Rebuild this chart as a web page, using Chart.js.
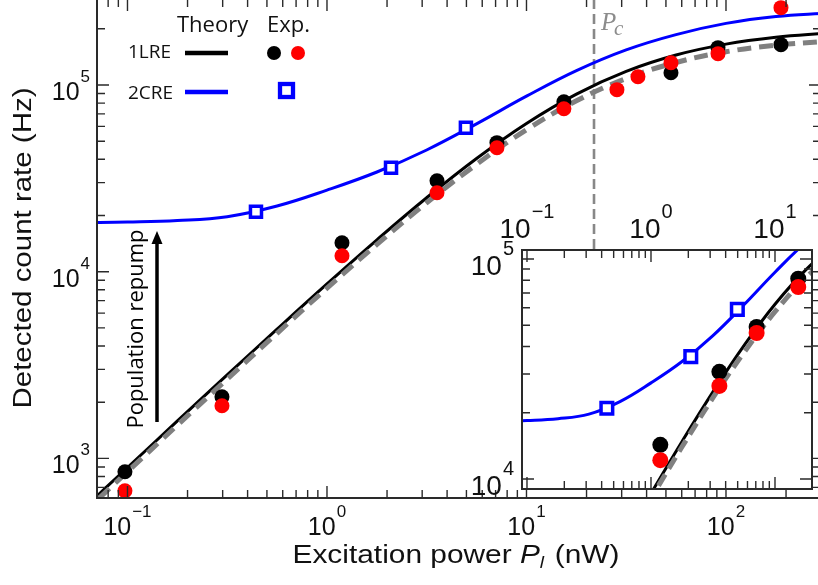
<!DOCTYPE html>
<html>
<head>
<meta charset="utf-8">
<script src="https://cdn.jsdelivr.net/npm/chart.js@4.4.1/dist/chart.umd.min.js"></script>
<style>
    html, body { margin: 0; padding: 0; background: #fff; overflow: hidden; width: 818px; height: 585px; }
    #mainBox { position: absolute; left: 0; top: -2px; width: 822px; height: 587px; }
    #insetBox { position: absolute; left: 462px; top: 195px; width: 360px; height: 300px; }
</style>
</head>
<body>
<div id="mainBox"><canvas id="mainChart" width="822" height="587"></canvas></div>
<div id="insetBox"><canvas id="insetChart" width="360" height="300"></canvas></div>
<script>
// theory curves (power in nW, count rate in Hz)
var theoryPower = [0.06, 0.1, 0.178, 0.316, 0.562, 1, 1.78, 3.16, 5.62, 10, 17.8, 31.6, 56.2, 100, 178, 320];
var theory1LRE = [537, 894, 1587, 2800, 4925, 8600, 14820, 24900, 40430, 62270, 89440, 118350, 144780, 165570, 180100, 189600];
var theory1LREdash = [510, 849, 1508, 2660, 4679, 8170, 14005, 23406, 37600, 57600, 82285, 108290, 132040, 150670, 163350, 171590];
var theory2CRE = [18320, 18450, 18790, 19720, 22490, 27350, 34200, 44870, 61940, 87100, 119400, 154200, 186200, 213800, 232800, 242700];

// measured points
var expPower = [0.0971, 0.2976, 1.189, 3.56, 7.11, 15.4, 53.0, 91.2, 188.6];
var expBlack = [849, 2140, 14300, 30700, 49100, 81400, 116400, 158500, 164500];
var expRedPower = [0.0971, 0.2976, 1.189, 3.56, 7.11, 15.4, 28.4, 36.2, 53.0, 91.2, 188.6];
var expRed = [671, 1916, 12180, 26500, 46100, 74600, 94400, 110700, 131500, 147200, 259600];
var exp2Power = [0.4406, 2.094, 4.97];
var exp2Blue = [20960, 36000, 59000];
var criticalPower = 21.8;

// tick labels
var mainXTicks = [0.1, 1, 10, 100];
var mainXExp = ['\u22121', '0', '1', '2'];
var mainYTicks = [1e3, 1e4, 1e5];
var mainYExp = ['3', '4', '5'];
var insetXTicks = [0.1, 1, 10];
var insetXExp = ['\u22121', '0', '1'];
var insetYTicks = [1e4, 1e5];
var insetYExp = ['4', '5'];

var SANS = '"Liberation Sans", Arial, sans-serif';
var LEG = '"Open Sans", sans-serif';

function pts(xs, ys) {
    return xs.map(function (v, i) { return { x: v, y: ys[i] }; });
}

function logTicks(min, max) {
    var out = [];
    var e0 = Math.floor(Math.log10(min)), e1 = Math.ceil(Math.log10(max));
    for (var e = e0; e <= e1; e++) {
        for (var m = 1; m < 10; m++) {
            var v = m * Math.pow(10, e);
            if (v >= min * 0.999 && v <= max * 1.001) out.push({ v: v, major: m === 1 });
        }
    }
    return out;
}

function drawBox(chart, s) {
    var ctx = chart.ctx, a = chart.chartArea, xs = chart.scales.x, ys = chart.scales.y;
    ctx.save();
    ctx.strokeStyle = '#2a2a2a';
    ctx.lineWidth = s.tickWidth;
    ctx.beginPath();
    logTicks(xs.min, xs.max).forEach(function (t) {
        var px = xs.getPixelForValue(t.v), len = t.major ? s.major : s.minor;
        ctx.moveTo(px, a.bottom); ctx.lineTo(px, a.bottom - len);
        ctx.moveTo(px, a.top); ctx.lineTo(px, a.top + len);
    });
    logTicks(ys.min, ys.max).forEach(function (t) {
        var py = ys.getPixelForValue(t.v), len = t.major ? s.major : s.minor;
        ctx.moveTo(a.left, py); ctx.lineTo(a.left + len, py);
        ctx.moveTo(a.right, py); ctx.lineTo(a.right - len, py);
    });
    ctx.stroke();
    ctx.lineWidth = s.borderWidth;
    ctx.strokeRect(a.left, a.top, a.right - a.left, a.bottom - a.top);
    ctx.restore();
}

function powerLabel(ctx, exp, x, y, s, align) {
    ctx.font = s.base + 'px ' + SANS;
    var w1 = ctx.measureText('10').width;
    ctx.font = s.sup + 'px ' + SANS;
    var w2 = ctx.measureText(exp).width;
    var left = align === 'right' ? x - w1 - w2 - 1 : x - (w1 + w2 + 1) / 2;
    ctx.fillStyle = '#111';
    ctx.textAlign = 'left';
    ctx.textBaseline = 'alphabetic';
    ctx.font = s.base + 'px ' + SANS;
    ctx.fillText('10', left, y);
    ctx.font = s.sup + 'px ' + SANS;
    ctx.fillText(exp, left + w1 + 1, y - s.raise);
}

function curveSets(w, dash) {
    return [
        { label: '2CRE theory', data: pts(theoryPower, theory2CRE), borderColor: '#0000ff', borderWidth: w.line, pointRadius: 0, tension: 0.4, order: 6 },
        { label: '1LRE theory', data: pts(theoryPower, theory1LRE), borderColor: '#000000', borderWidth: w.line, pointRadius: 0, tension: 0.4, order: 5 },
        { label: '1LRE theory (dashed)', data: pts(theoryPower, theory1LREdash), borderColor: '#808080', borderWidth: w.dash, borderDash: dash, pointRadius: 0, tension: 0.4, order: 4 },
        { label: 'Exp. black', data: pts(expPower, expBlack), showLine: false, pointRadius: w.dot, pointBorderWidth: 0, pointBackgroundColor: '#000000', order: 3 },
        { label: 'Exp. red', data: pts(expRedPower, expRed), showLine: false, pointRadius: w.dot, pointBorderWidth: 0, pointBackgroundColor: '#ff0000', order: 2 },
        { label: 'Exp. 2CRE', data: pts(exp2Power, exp2Blue), showLine: false, pointStyle: 'rect', pointRadius: w.sq, pointBorderWidth: w.sqBorder, pointBorderColor: '#0000ff', pointBackgroundColor: '#ffffff', order: 1 }
    ];
}

function logAxis(min, max, fit) {
    return {
        type: 'logarithmic', min: min, max: max,
        ticks: { display: false }, grid: { display: false }, border: { display: false },
        afterFit: fit
    };
}

// text squeezed or stretched along its run to a given length
function stretchedText(ctx, parts, cx, cy, length, angle) {
    var total = 0;
    parts.forEach(function (p) { ctx.font = p.font; p.w = ctx.measureText(p.text).width; total += p.w + (p.gap || 0); });
    ctx.save();
    ctx.translate(cx, cy);
    ctx.rotate(angle);
    ctx.scale(length / total, 1);
    ctx.textAlign = 'left';
    ctx.textBaseline = 'alphabetic';
    var x = -total / 2;
    parts.forEach(function (p) {
        ctx.font = p.font;
        ctx.fillText(p.text, x, p.dy || 0);
        x += p.w + (p.gap || 0);
    });
    ctx.restore();
}

var mainDecor = {
    id: 'mainDecor',
    beforeDatasetsDraw: function (chart) {
        var ctx = chart.ctx, a = chart.chartArea;
        var px = chart.scales.x.getPixelForValue(criticalPower);
        ctx.save();
        ctx.strokeStyle = '#888888';
        ctx.lineWidth = 2.6;
        ctx.setLineDash([10, 5]);
        ctx.beginPath();
        ctx.moveTo(px, a.top);
        ctx.lineTo(px, 254);
        ctx.stroke();
        ctx.restore();
    },
    afterDraw: function (chart) {
        var ctx = chart.ctx, a = chart.chartArea, xs = chart.scales.x, ys = chart.scales.y;
        drawBox(chart, { tickWidth: 1.4, major: 12, minor: 8, borderWidth: 2 });
        var lab = { base: 25, sup: 17, raise: 18 };
        mainXTicks.forEach(function (v, i) {
            powerLabel(ctx, mainXExp[i], xs.getPixelForValue(v), a.bottom + 37, lab, 'center');
        });
        mainYTicks.forEach(function (v, i) {
            powerLabel(ctx, mainYExp[i], a.left - 7, ys.getPixelForValue(v) + 15, lab, 'right');
        });

        ctx.save();
        ctx.translate(0, 2); // page coordinates
        ctx.fillStyle = '#111';
        // axis titles
        stretchedText(ctx, [
            { text: 'Excitation power ', font: '25px ' + SANS },
            { text: 'P', font: 'italic 25px ' + SANS },
            { text: 'l', font: 'italic 16px ' + SANS, dy: 5, gap: 2 },
            { text: ' (nW)', font: '25px ' + SANS }
        ], 456, 563, 327, 0);
        stretchedText(ctx, [
            { text: 'Detected count rate (Hz)', font: '25px ' + SANS }
        ], 31, 248, 321, -Math.PI / 2);

        // legend table
        ctx.textAlign = 'left';
        ctx.textBaseline = 'alphabetic';
        ctx.font = '22px ' + LEG;
        ctx.fillText('Theory', 177, 32);
        ctx.fillText('Exp.', 267, 32);
        ctx.font = '19px ' + LEG;
        ctx.fillText('1LRE', 128, 58);
        ctx.fillText('2CRE', 128, 99);
        ctx.lineWidth = 4.5;
        ctx.strokeStyle = '#000';
        ctx.beginPath(); ctx.moveTo(185, 53); ctx.lineTo(228, 53); ctx.stroke();
        ctx.strokeStyle = '#0000ff';
        ctx.beginPath(); ctx.moveTo(185, 92); ctx.lineTo(228, 92); ctx.stroke();
        ctx.fillStyle = '#000';
        ctx.beginPath(); ctx.arc(274, 53, 7, 0, Math.PI * 2); ctx.fill();
        ctx.fillStyle = '#ff0000';
        ctx.beginPath(); ctx.arc(298, 53, 7, 0, Math.PI * 2); ctx.fill();
        ctx.fillStyle = '#fff';
        ctx.lineWidth = 4.3;
        ctx.fillRect(280, 84, 13, 13);
        ctx.strokeRect(280, 84, 13, 13);

        // P_c label
        ctx.fillStyle = '#8c8c8c';
        ctx.font = 'italic 25px "Liberation Serif", serif';
        ctx.fillText('P', 601, 30);
        ctx.font = 'italic 21px "Liberation Serif", serif';
        ctx.fillText('c', 614, 35);

        // population repump arrow
        ctx.strokeStyle = '#000';
        ctx.fillStyle = '#000';
        ctx.lineWidth = 3.5;
        ctx.beginPath(); ctx.moveTo(157, 422); ctx.lineTo(157, 242); ctx.stroke();
        ctx.beginPath(); ctx.moveTo(157, 231); ctx.lineTo(151.5, 244); ctx.lineTo(162.5, 244); ctx.closePath(); ctx.fill();
        ctx.save();
        ctx.translate(137, 329);
        ctx.rotate(-Math.PI / 2);
        ctx.textAlign = 'center';
        ctx.textBaseline = 'middle';
        ctx.font = '22px ' + LEG;
        ctx.fillText('Population repump', 0, 0);
        ctx.restore();
        ctx.restore();
    }
};

var insetDecor = {
    id: 'insetDecor',
    beforeDraw: function (chart) {
        var a = chart.chartArea;
        chart.ctx.save();
        chart.ctx.fillStyle = '#ffffff';
        chart.ctx.fillRect(a.left, a.top, a.right - a.left, a.bottom - a.top);
        chart.ctx.restore();
    },
    afterDraw: function (chart) {
        var ctx = chart.ctx, a = chart.chartArea, xs = chart.scales.x, ys = chart.scales.y;
        drawBox(chart, { tickWidth: 1.4, major: 12, minor: 8, borderWidth: 2 });
        var lab = { base: 28, sup: 20, raise: 20 };
        insetXTicks.forEach(function (v, i) {
            powerLabel(ctx, insetXExp[i], xs.getPixelForValue(v), a.top - 12, lab, 'center');
        });
        insetYTicks.forEach(function (v, i) {
            powerLabel(ctx, insetYExp[i], a.left - 8, ys.getPixelForValue(v) + 16, lab, 'right');
        });
    }
};

new Chart(document.getElementById('mainChart').getContext('2d'), {
    type: 'line',
    data: { datasets: curveSets({ line: 3, dash: 5, dot: 7.5, sq: 7.8, sqBorder: 3.5 }, [14, 8]) },
    options: {
        responsive: false,
        animation: false,
        layout: { autoPadding: false, padding: { top: 1, right: 1, left: 0, bottom: 0 } },
        plugins: { legend: { display: false }, tooltip: { enabled: false } },
        scales: {
            x: logAxis(0.07034, 299.4, function (s) { s.height = 87; }),
            y: logAxis(613.8, 288800, function (s) { s.width = 97; })
        }
    },
    plugins: [mainDecor]
});

new Chart(document.getElementById('insetChart').getContext('2d'), {
    type: 'line',
    data: { datasets: curveSets({ line: 3, dash: 5, dot: 8, sq: 8.2, sqBorder: 3.5 }, [13, 7]) },
    options: {
        responsive: false,
        animation: false,
        layout: { autoPadding: false, padding: { top: 55, right: 10, left: 0, bottom: 0 } },
        plugins: { legend: { display: false }, tooltip: { enabled: false } },
        scales: {
            x: logAxis(0.09115, 19.88, function (s) { s.height = 6; }),
            y: logAxis(9006, 109870, function (s) { s.width = 60; })
        }
    },
    plugins: [insetDecor]
});
</script>
</body>
</html>
